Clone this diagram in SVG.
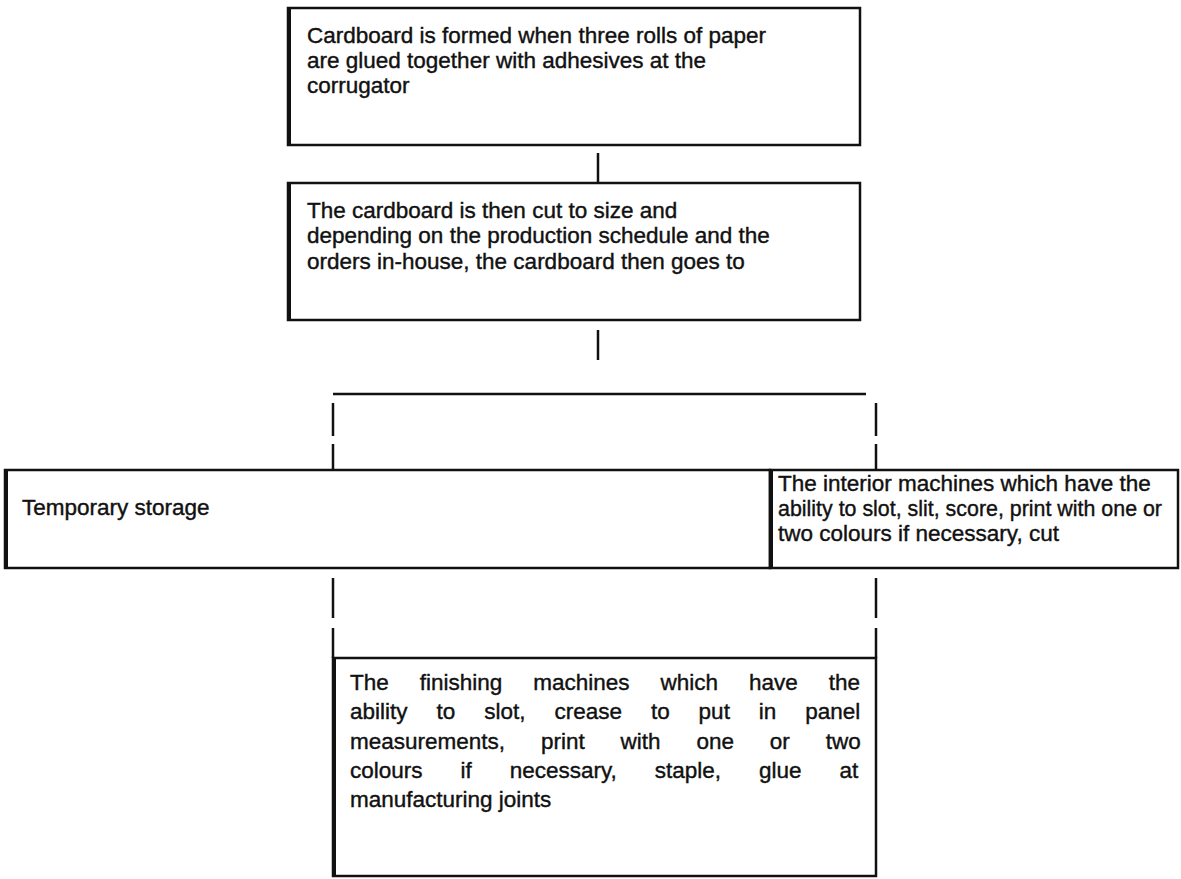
<svg xmlns="http://www.w3.org/2000/svg" width="1181" height="879" viewBox="0 0 1181 879">
  <style>
    .box { fill: #ffffff; stroke: #111111; stroke-width: 2.5; }
    .edge { stroke: #111111; stroke-width: 4; }
    .link { stroke: #111111; stroke-width: 2.5; fill: none; }
    .txt { font-family: "Liberation Sans", Arial, sans-serif; font-size: 22.5px; fill: #111111; stroke: #111111; stroke-width: 0.4; }
  </style>
  <rect width="1181" height="879" fill="#ffffff"/>

  <!-- connectors -->
  <g id="connectors">
    <line class="link" x1="598" y1="153" x2="598" y2="183"/>
    <line class="link" x1="598" y1="330" x2="598" y2="360"/>
    <line class="link" x1="333" y1="394" x2="866" y2="394"/>
    <line class="link" x1="333" y1="403" x2="333" y2="436"/>
    <line class="link" x1="333" y1="444" x2="333" y2="470"/>
    <line class="link" x1="876" y1="403" x2="876" y2="436"/>
    <line class="link" x1="876" y1="444" x2="876" y2="470"/>
    <line class="link" x1="333" y1="578" x2="333" y2="618"/>
    <line class="link" x1="333" y1="628" x2="333" y2="658"/>
    <line class="link" x1="876" y1="578" x2="876" y2="618"/>
    <line class="link" x1="876" y1="628" x2="876" y2="658"/>
  </g>

  <!-- corrugator step -->
  <g id="node-corrugator">
    <rect class="box" x="288" y="8" width="572" height="137"/>
    <line class="edge" x1="289" y1="8" x2="289" y2="145"/>
    <text class="txt" x="307" y="43">Cardboard is formed when three rolls of paper</text>
    <text class="txt" x="307" y="68">are glued together with adhesives at the</text>
    <text class="txt" x="307" y="93">corrugator</text>
  </g>

  <!-- cutting step -->
  <g id="node-cut">
    <rect class="box" x="288" y="183" width="572" height="137"/>
    <line class="edge" x1="289" y1="183" x2="289" y2="320"/>
    <text class="txt" x="307" y="218">The cardboard is then cut to size and</text>
    <text class="txt" x="307" y="243">depending on the production schedule and the</text>
    <text class="txt" x="307" y="269">orders in-house, the cardboard then goes to</text>
  </g>

  <!-- temporary storage -->
  <g id="node-storage">
    <rect class="box" x="5" y="470" width="765" height="98"/>
    <line class="edge" x1="6" y1="470" x2="6" y2="568"/>
    <text class="txt" x="22" y="515">Temporary storage</text>
  </g>

  <!-- interior machines -->
  <g id="node-interior">
    <rect class="box" x="770" y="470" width="408" height="98"/>
    <line class="edge" x1="771" y1="470" x2="771" y2="568"/>
    <text class="txt" x="778" y="491">The interior machines which have the</text>
    <text class="txt" x="778" y="516" textLength="384" lengthAdjust="spacingAndGlyphs">ability to slot, slit, score, print with one or</text>
    <text class="txt" x="778" y="541">two colours if necessary, cut</text>
  </g>

  <!-- finishing machines (justified text) -->
  <g id="node-finishing">
    <rect class="box" x="333" y="658" width="543" height="218"/>
    <line class="edge" x1="334" y1="658" x2="334" y2="876"/>
    <text class="txt" x="350" y="690" word-spacing="24.7">The finishing machines which have the</text>
    <text class="txt" x="350" y="719" word-spacing="22.7">ability to slot, crease to put in panel</text>
    <text class="txt" x="350" y="749" word-spacing="29.6">measurements, print with one or two</text>
    <text class="txt" x="350" y="778" word-spacing="31.7">colours if necessary, staple, glue at</text>
    <text class="txt" x="350" y="807">manufacturing joints</text>
  </g>
</svg>
